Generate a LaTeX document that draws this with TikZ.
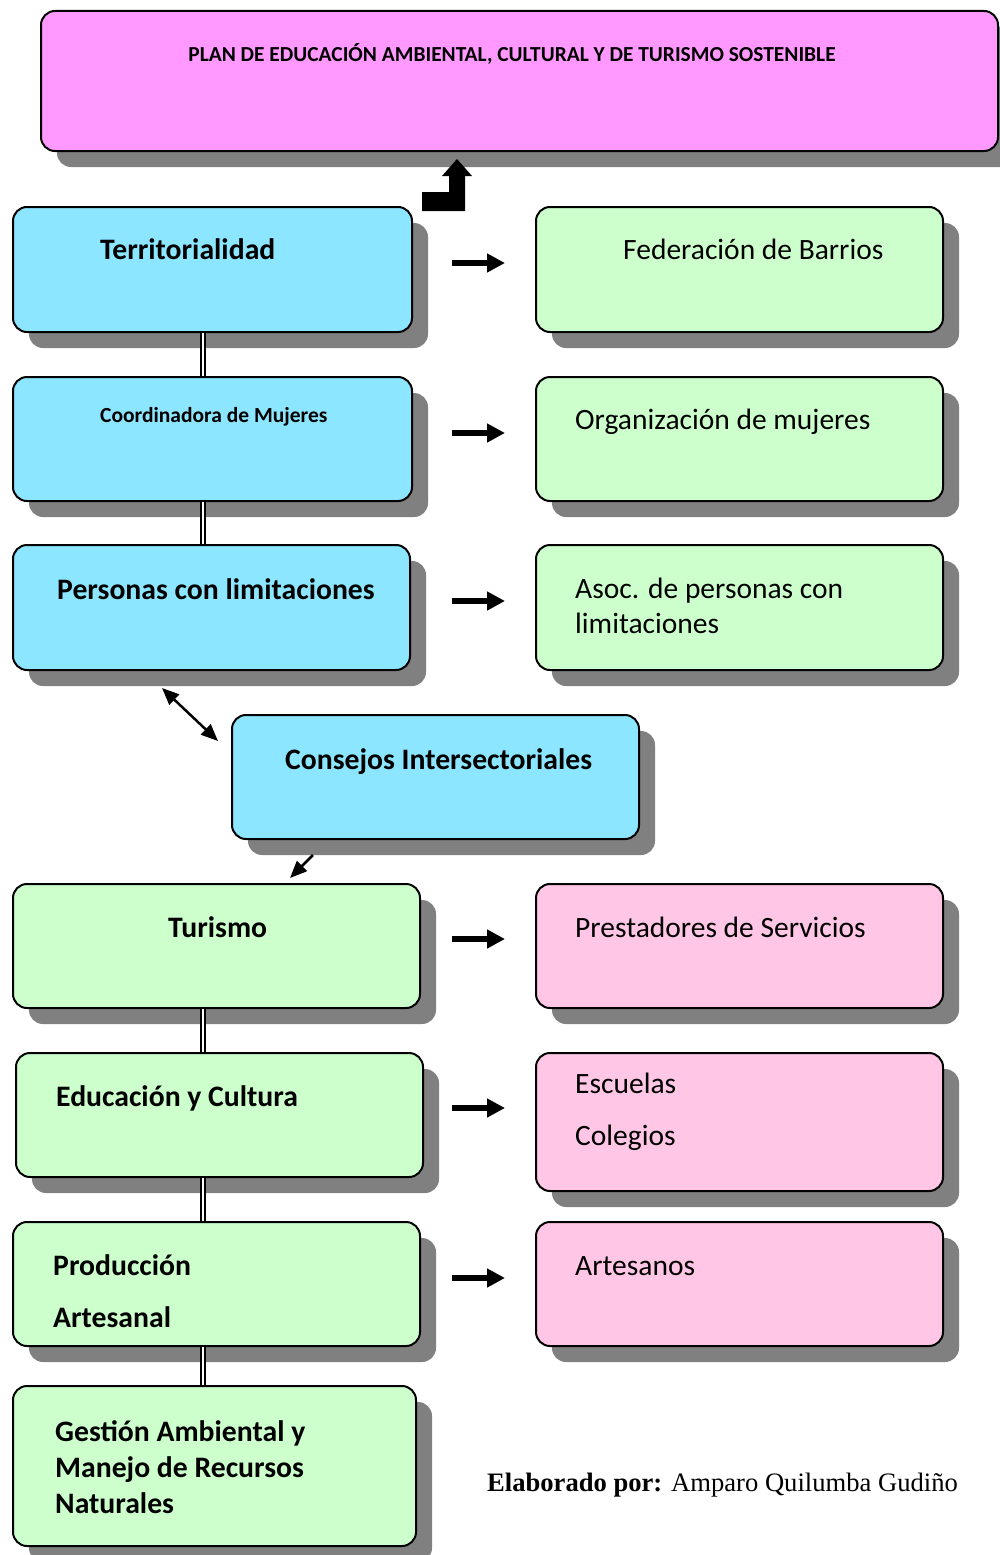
\documentclass[tikz,border=0pt]{standalone}
\usepackage{xcolor}
\usepackage{fontspec}
\setmainfont{Carlito}
\newfontfamily\timesfont{Liberation Serif}
\usepackage{tikz}
\usetikzlibrary{arrows.meta,shadows}
\definecolor{planpink}{RGB}{255,153,255}
\definecolor{boxblue}{RGB}{140,230,255}
\definecolor{boxgreen}{RGB}{204,255,204}
\definecolor{boxpink}{RGB}{255,198,230}
\definecolor{shadowgray}{RGB}{128,128,128}

\begin{document}
\begin{tikzpicture}[x=1pt,y=-1pt,
  box/.style={draw,line width=2pt,rounded corners=14pt,anchor=north west,inner sep=0pt,
    drop shadow={shadow xshift=16pt,shadow yshift=-16pt,fill=shadowgray,opacity=1}},
  lbl/.style={anchor=base west,inner sep=0pt,align=left,font=\fontsize{29.5}{35}\selectfont},
  blbl/.style={lbl,font=\bfseries\fontsize{29.7}{36}\selectfont},
  bigarrow/.style={line width=6pt,-{Triangle[length=18pt,width=18pt]}},
  slimarrow/.style={line width=2.5pt,-{Triangle[length=17pt,width=14pt]}},
  dbl/.style={double,double distance=2pt,line width=2pt}]
\useasboundingbox (0,0) rectangle (1000,1555);
\coordinate (spine) at (203,0);
\node[box,fill=planpink,minimum width=957pt,minimum height=140pt] (plan) at (40,10) {};
\node[box,fill=boxblue,minimum width=399pt,minimum height=125pt] (terr) at (12,206) {};
\node[box,fill=boxblue,minimum width=399pt,minimum height=124pt] (coord) at (12,376) {};
\node[box,fill=boxblue,minimum width=397pt,minimum height=125pt] (pers) at (12,544) {};
\node[box,fill=boxgreen,minimum width=407pt,minimum height=125pt] (fed) at (535,206) {};
\node[box,fill=boxgreen,minimum width=407pt,minimum height=124pt] (org) at (535,376) {};
\node[box,fill=boxgreen,minimum width=407pt,minimum height=125pt] (asoc) at (535,544) {};
\node[box,fill=boxblue,minimum width=407pt,minimum height=124pt] (cons) at (231,714) {};
\node[box,fill=boxgreen,minimum width=407pt,minimum height=124pt] (tur) at (12,883) {};
\node[box,fill=boxgreen,minimum width=407pt,minimum height=124pt] (edu) at (15,1052) {};
\node[box,fill=boxgreen,minimum width=407pt,minimum height=124pt] (prod) at (12,1221) {};
\node[box,fill=boxgreen,minimum width=403pt,minimum height=160pt] (gest) at (12,1385) {};
\node[box,fill=boxpink,minimum width=407pt,minimum height=124pt] (prest) at (535,883) {};
\node[box,fill=boxpink,minimum width=407pt,minimum height=138pt] (esc) at (535,1052) {};
\node[box,fill=boxpink,minimum width=407pt,minimum height=124pt] (art) at (535,1221) {};

\node[anchor=base,inner sep=0pt,font=\bfseries\fontsize{21.4}{25}\selectfont] (plan-t) at (512,62) {PLAN DE EDUCACIÓN AMBIENTAL, CULTURAL Y DE TURISMO SOSTENIBLE};
\node[blbl] (terr-t) at (100,259) {Territorialidad};
\node[blbl,font=\bfseries\fontsize{21.5}{25}\selectfont] (coord-t) at (100,422) {Coordinadora de Mujeres};
\node[blbl] (pers-t) at (57,599) {Personas con limitaciones};
\node[lbl] (fed-t) at (623,259) {Federación de Barrios};
\node[lbl] (org-t) at (575,429) {Organización de mujeres};
\node[lbl] (asoc-t) at (575,633) {Asoc. de personas con\\limitaciones};
\node[blbl] (cons-t) at (285,769) {Consejos Intersectoriales};
\node[blbl] (tur-t) at (168,937) {Turismo};
\node[lbl] (prest-t) at (575,937) {Prestadores de Servicios};
\node[blbl] (edu-t) at (56,1106) {Educación y Cultura};
\node[lbl] (esc-t) at (575,1145) {Escuelas\\[17pt]Colegios};
\node[blbl] (prod-t) at (53,1327) {Producción\\[16pt]Artesanal};
\node[lbl] (art-t) at (575,1275) {Artesanos};
\node[blbl] (gest-t) at (55,1513) {Gestión Ambiental y\\Manejo de Recursos\\Naturales};
\node[anchor=base west,inner sep=0pt,font=\timesfont\fontsize{26.6}{30}\selectfont] (autor) at (487,1491) {\textbf{Elaborado por:} Amparo Quilumba Gudiño};

\fill (422,192) -- (449,192) -- (449,176) -- (442,176) -- (457,159) -- (472,176) -- (465,176) -- (465,211) -- (422,211) -- cycle;

\draw[dbl] (terr.south -| spine) -- (coord.north -| spine);
\draw[dbl] (coord.south -| spine) -- (pers.north -| spine);
\draw[dbl] (tur.south -| spine) -- (edu.north -| spine);
\draw[dbl] (edu.south -| spine) -- (prod.north -| spine);
\draw[dbl] (prod.south -| spine) -- (gest.north -| spine);

\draw[bigarrow,transform canvas={yshift=6.5pt},shorten <=39pt,shorten >=30pt] (terr.east) -- (terr.east -| fed.west);
\draw[bigarrow,transform canvas={yshift=6pt},shorten <=39pt,shorten >=30pt] (coord.east) -- (coord.east -| org.west);
\draw[bigarrow,transform canvas={yshift=6.5pt},shorten <=41pt,shorten >=30pt] (pers.east) -- (pers.east -| asoc.west);
\draw[bigarrow,transform canvas={yshift=7pt},shorten <=31pt,shorten >=30pt] (tur.east) -- (tur.east -| prest.west);
\draw[bigarrow,transform canvas={yshift=7pt},shorten <=28pt,shorten >=30pt] (edu.east) -- (edu.east -| esc.west);
\draw[bigarrow,transform canvas={yshift=6pt},shorten <=31pt,shorten >=30pt] (prod.east) -- (prod.east -| art.west);

\draw[slimarrow,{Triangle[length=17pt,width=14pt]}-{Triangle[length=17pt,width=14pt]}] ([shift={(150,17)}]pers.south west) -- ([shift={(-13,27)}]cons.north west);
\draw[slimarrow] ([shift={(82,15)}]cons.south west) -- ([shift={(278,-5)}]tur.north west);
\end{tikzpicture}
\end{document}
